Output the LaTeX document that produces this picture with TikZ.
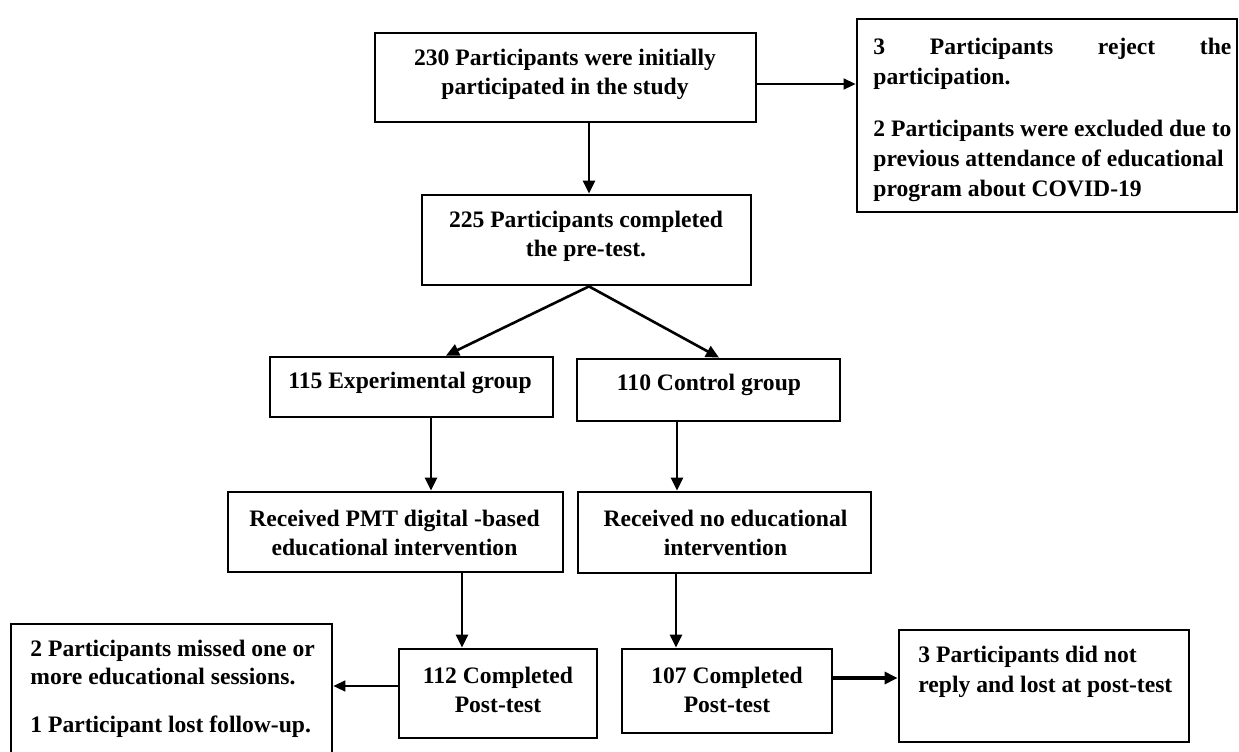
\documentclass[tikz,border=0pt]{standalone}
\usepackage{fontspec}
\setmainfont{Liberation Serif}
\usetikzlibrary{arrows.meta,calc}
\begin{document}
\begin{tikzpicture}[x=0.5pt,y=-0.5pt,
  box/.style={draw, line width=1.4pt, inner sep=0pt, fill=white},
  txt/.style={font=\bfseries\fontsize{11.8}{14.5}\selectfont, align=center, inner sep=0pt},
  arr/.style={line width=1.3pt, -{Triangle[length=6.5pt,width=6pt]}},
  thinarr/.style={line width=0.8pt, -{Triangle[length=6pt,width=5.5pt]}}]
\useasboundingbox[fill=white] (0,0) rectangle (1239,751);
% boxes
\node[box, minimum width=190.5pt, minimum height=44.5pt] (A) at (565.5,77.5) {};
\node[box, minimum width=190pt, minimum height=96.5pt] (R) at (1047,115.5) {};
\node[box, minimum width=164.5pt, minimum height=45pt] (B) at (586.5,240) {};
\node[box, minimum width=141.5pt, minimum height=30pt] (E) at (411.5,387) {};
\node[box, minimum width=131.5pt, minimum height=31pt] (C) at (708.5,390) {};
\node[box, minimum width=167.5pt, minimum height=40pt] (P) at (395.5,532) {};
\node[box, minimum width=146.5pt, minimum height=40.5pt] (N) at (724.5,532.5) {};
\node[box, minimum width=160.5pt, minimum height=65pt] (L) at (171.5,689) {};
\node[box, minimum width=99pt, minimum height=44.5pt] (T1) at (498,693.5) {};
\node[box, minimum width=105pt, minimum height=42pt] (T2) at (727,691) {};
\node[box, minimum width=145pt, minimum height=56pt] (R2) at (1044,686) {};
% texts
\node[txt] (tA) at (565,74.5) {230 Participants were initially\\participated in the study};
\node[txt, align=left, anchor=north west, font=\bfseries\fontsize{11.8}{15}\selectfont] (tR) at (873,37.5)
  {\makebox[179pt][s]{3 Participants reject the}\\participation.\\[11pt]2 Participants were excluded due to\\previous attendance of educational\\program about COVID-19};
\node[txt] (tB) at (586,236.5) {225 Participants completed\\the pre-test.};
\node[txt] (tE) at (410,383) {115 Experimental group};
\node[txt] (tC) at (709,385) {110 Control group};
\node[txt] (tP) at (394.5,532.5) {Received PMT digital -based\\educational intervention};
\node[txt] (tN) at (725.5,533) {Received no educational\\intervention};
\node[txt, align=left, anchor=west, font=\bfseries\fontsize{11.8}{14}\selectfont] (tL) at (30,689) {2 Participants missed one or\\more educational sessions.\\[10pt]1 Participant lost follow-up.};
\node[txt] (tT1) at (498,689.5) {112 Completed\\Post-test};
\node[txt] (tT2) at (727,690) {107 Completed\\Post-test};
\node[txt, align=left, anchor=west, font=\bfseries\fontsize{11.8}{15}\selectfont] (tR2) at (918,672) {3 Participants did not\\reply and lost at post-test};
% connector coordinates
\coordinate (xAB) at (589,0);
\coordinate (xEP) at (431,0);
\coordinate (xCN) at (677,0);
\coordinate (xNT) at (676,0);
\coordinate (xPT) at (462,0);
\coordinate (yAR) at (0,84);
\coordinate (yTL) at (0,686);
\coordinate (yTR) at (0,678);
% connectors
\draw[arr] (A.south -| xAB) -- (B.north -| xAB);
\draw[thinarr] (A.east |- yAR) -- (R.west |- yAR);
\draw[arr] (B.south -| xAB) -- ([xshift=17.25pt]E.north);
\draw[arr] (B.south -| xAB) -- ([xshift=5.25pt]C.north);
\draw[arr] (E.south -| xEP) -- (P.north -| xEP);
\draw[arr] (C.south -| xCN) -- (N.north -| xCN);
\draw[arr] (P.south -| xPT) -- (T1.north -| xPT);
\draw[arr] (N.south -| xNT) -- (T2.north -| xNT);
\draw[thinarr] (T1.west |- yTL) -- (L.east |- yTL);
\draw[arr, line width=2pt] (T2.east |- yTR) -- (R2.west |- yTR);
\end{tikzpicture}
\end{document}
